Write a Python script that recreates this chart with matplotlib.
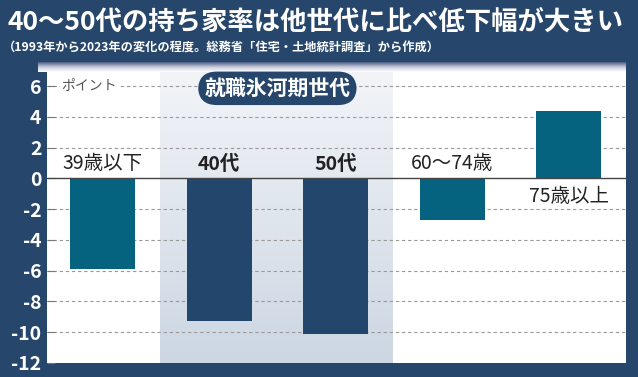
import matplotlib
matplotlib.use("Agg")
import matplotlib.pyplot as plt
import numpy as np
from matplotlib.colors import LinearSegmentedColormap

plt.rcParams['font.family'] = ['Noto Sans CJK JP', 'DejaVu Sans']

categories = ["39歳以下", "40代", "50代", "60〜74歳", "75歳以上"]
values = [-5.9, -9.3, -10.1, -2.7, 4.4]
bar_colors = ["#05637f", "#23476c", "#23476c", "#05637f", "#05637f"]
bold_labels = [False, True, True, False, False]
yticks = [6, 4, 2, 0, -2, -4, -6, -8, -10, -12]
title = "40〜50代の持ち家率は他世代に比べ低下幅が大きい"
subtitle = "（1993年から2023年の変化の程度。総務省「住宅・土地統計調査」から作成）"
badge = "就職氷河期世代"
unit = "ポイント"

NAVY = "#26466b"

fig = plt.figure(figsize=(6.38, 3.77), dpi=100, facecolor=NAVY)

# top gradient strip under the subtitle
grad_ax = fig.add_axes([38/638, (377-72)/377, (626-38)/638, 10/377])
grad_ax.axis('off')
g = np.linspace(0, 1, 50).reshape(-1, 1)
cm_top = LinearSegmentedColormap.from_list('t', ["#ffffff", "#c9cbdc", "#4a5f84"])
grad_ax.imshow(g, aspect='auto', cmap=cm_top, origin='lower', extent=[0, 1, 0, 1])

ax = fig.add_axes([47/638, (377-363)/377, (626-47)/638, (363-72)/377])
ax.set_facecolor("white")
x = np.arange(len(categories))
ax.set_xlim(-0.476, 4.49)
ax.set_ylim(-12, 6.91)

# shaded band (light at top, darker at bottom)
cm_band = LinearSegmentedColormap.from_list('b', ["#f2f4f8", "#ccd7e3"])
ax.imshow(np.linspace(1, 0, 100).reshape(-1, 1), aspect='auto', cmap=cm_band,
          extent=[0.493, 2.49, -12, 6.91], origin='lower', zorder=0)

for yv in yticks:
    if yv in (0, -12):
        continue
    ax.axhline(yv, color="#9a9a9a", lw=0.8, ls=(0, (3, 2.5)), zorder=1)

ax.bar(x, values, width=0.557, color=bar_colors, zorder=2)
ax.axhline(0, color="#444444", lw=1.0, zorder=3)

for xi, (cat, v, b) in enumerate(zip(categories, values, bold_labels)):
    if v < 0:
        ax.text(xi, 0.3, cat, ha='center', va='bottom', fontsize=14,
                fontweight='bold' if b else 'normal', color="#222222", zorder=4)
    else:
        ax.text(xi, -0.5, cat, ha='center', va='top', fontsize=14,
                fontweight='bold' if b else 'normal', color="#222222", zorder=4)

ax.text(0.025, 6, unit, transform=ax.get_yaxis_transform(), ha='left', va='center',
        fontsize=10, color="#555555", zorder=4,
        bbox=dict(boxstyle='square,pad=0.1', fc='white', ec='none'))

ax.text(1.5, 5.85, badge, ha='center', va='center', fontsize=15, fontweight='bold',
        color='white', zorder=5,
        bbox=dict(boxstyle='round,pad=0.3,rounding_size=0.9', fc=NAVY, ec='none'))

ax.set_yticks(yticks)
ax.set_yticklabels([str(t) for t in yticks], fontsize=14, fontweight='bold', color='white')
ax.tick_params(axis='y', direction='in', length=6, color="#777777", pad=4)
ax.set_xticks([])
for s in ax.spines.values():
    s.set_visible(False)

fig.text(8/638, 1 - 22/377, title, fontsize=19, fontweight='bold', color='white',
         ha='left', va='center')
fig.text(3/638, 1 - 48/377, subtitle, fontsize=8.8, fontweight='bold', color='white',
         ha='left', va='center')

fig.savefig("out.png", dpi=100, facecolor=NAVY)
